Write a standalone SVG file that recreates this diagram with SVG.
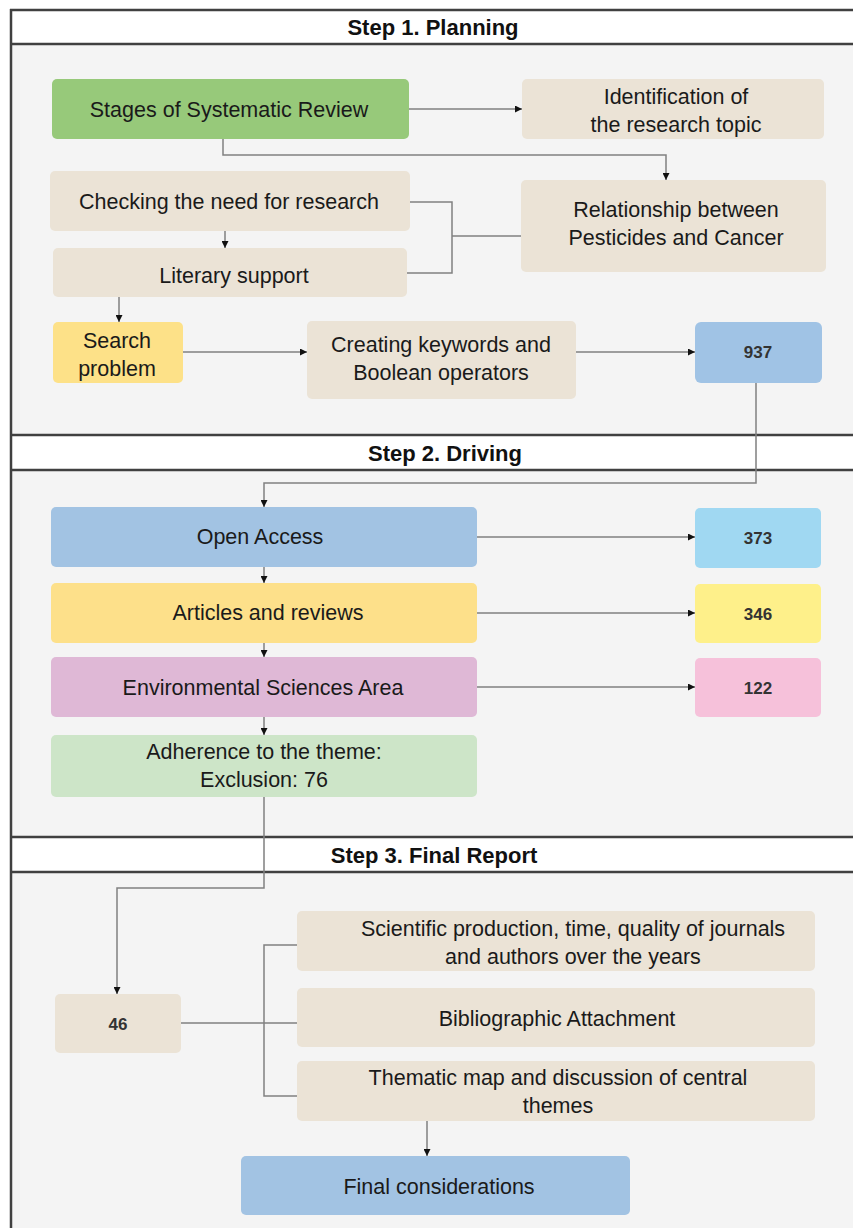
<svg xmlns="http://www.w3.org/2000/svg" width="853" height="1228" viewBox="0 0 853 1228">
<style>
.t{font-family:"Liberation Sans",Arial,sans-serif;font-size:21.5px;fill:#1a1a1a;text-anchor:middle}
.n{font-family:"Liberation Sans",Arial,sans-serif;font-size:17px;font-weight:bold;fill:#333;text-anchor:middle}
.h{font-family:"Liberation Sans",Arial,sans-serif;font-size:22px;font-weight:bold;fill:#111;text-anchor:middle}
.c{fill:none;stroke:#808080;stroke-width:1.5}
.b{fill:#ebe3d6}
.sep{stroke:#404040;stroke-width:2.5}
</style>
<defs>
<marker id="a" viewBox="0 0 10 10" refX="10" refY="5" markerWidth="7" markerHeight="7" markerUnits="userSpaceOnUse" orient="auto"><path d="M0,0L10,5L0,10z" fill="#111"/></marker>
</defs>
<rect x="0" y="0" width="853" height="1228" fill="#fff"/>
<g id="frame">
<rect x="11" y="44" width="842" height="391" fill="#f4f4f4"/>
<rect x="11" y="470" width="842" height="367" fill="#f4f4f4"/>
<rect x="11" y="872" width="842" height="356" fill="#f4f4f4"/>
<line class="sep" x1="10" y1="10" x2="853" y2="10"/>
<line class="sep" x1="10" y1="44" x2="853" y2="44"/>
<line class="sep" x1="10" y1="435" x2="853" y2="435"/>
<line class="sep" x1="10" y1="470" x2="853" y2="470"/>
<line class="sep" x1="10" y1="837" x2="853" y2="837"/>
<line class="sep" x1="10" y1="872" x2="853" y2="872"/>
<line class="sep" x1="11" y1="9" x2="11" y2="1228"/>
<text class="h" x="433" y="35">Step 1. Planning</text>
<text class="h" x="445" y="461">Step 2. Driving</text>
<text class="h" x="434" y="863">Step 3. Final Report</text>
</g>
<g id="connectors">
<line class="c" x1="409" y1="109" x2="522" y2="109" marker-end="url(#a)"/>
<polyline class="c" points="223,139 223,155 666,155 666,180" marker-end="url(#a)"/>
<line class="c" x1="225" y1="231" x2="225" y2="248" marker-end="url(#a)"/>
<polyline class="c" points="410,202 452,202 452,273 407,273"/>
<line class="c" x1="452" y1="236" x2="521" y2="236"/>
<line class="c" x1="119" y1="297" x2="119" y2="322" marker-end="url(#a)"/>
<line class="c" x1="183" y1="352" x2="307" y2="352" marker-end="url(#a)"/>
<line class="c" x1="576" y1="352" x2="695" y2="352" marker-end="url(#a)"/>
<polyline class="c" points="756,383 756,483 264,483 264,507" marker-end="url(#a)"/>
<line class="c" x1="477" y1="537" x2="695" y2="537" marker-end="url(#a)"/>
<line class="c" x1="264" y1="567" x2="264" y2="583" marker-end="url(#a)"/>
<line class="c" x1="477" y1="613" x2="695" y2="613" marker-end="url(#a)"/>
<line class="c" x1="264" y1="643" x2="264" y2="657" marker-end="url(#a)"/>
<line class="c" x1="477" y1="687" x2="695" y2="687" marker-end="url(#a)"/>
<line class="c" x1="264" y1="717" x2="264" y2="735" marker-end="url(#a)"/>
<polyline class="c" points="264,797 264,888 117,888 117,994" marker-end="url(#a)"/>
<line class="c" x1="181" y1="1023" x2="297" y2="1023"/>
<polyline class="c" points="297,945 264,945 264,1096 297,1096"/>
<line class="c" x1="427" y1="1121" x2="427" y2="1156" marker-end="url(#a)"/>
</g>
<g id="n-stages"><rect x="52" y="79" width="357" height="60" rx="5" fill="#97c97a"/><text class="t" x="229" y="117">Stages of Systematic Review</text></g>
<g id="n-ident"><rect class="b" x="522" y="79" width="302" height="60" rx="5"/><text class="t" x="676" y="104">Identification of</text><text class="t" x="676" y="132">the research topic</text></g>
<g id="n-rel"><rect class="b" x="521" y="180" width="305" height="92" rx="5"/><text class="t" x="676" y="217">Relationship between</text><text class="t" x="676" y="245">Pesticides and Cancer</text></g>
<g id="n-check"><rect class="b" x="50" y="171" width="360" height="60" rx="5"/><text class="t" x="229" y="209">Checking the need for research</text></g>
<g id="n-lit"><rect class="b" x="53" y="248" width="354" height="49" rx="5"/><text class="t" x="234" y="283">Literary support</text></g>
<g id="n-search"><rect x="53" y="322" width="130" height="61" rx="5" fill="#fde188"/><text class="t" x="117" y="348">Search</text><text class="t" x="117" y="376">problem</text></g>
<g id="n-kw"><rect class="b" x="307" y="321" width="269" height="78" rx="5"/><text class="t" x="441" y="352">Creating keywords and</text><text class="t" x="441" y="380">Boolean operators</text></g>
<g id="n-937"><rect x="695" y="322" width="127" height="61" rx="6" fill="#a0c3e5"/><text class="n" x="758" y="358">937</text></g>
<g id="n-open"><rect x="51" y="507" width="426" height="60" rx="5" fill="#a2c3e3"/><text class="t" x="260" y="544">Open Access</text></g>
<g id="n-373"><rect x="695" y="508" width="126" height="60" rx="5" fill="#a0d8f2"/><text class="n" x="758" y="544">373</text></g>
<g id="n-art"><rect x="51" y="583" width="426" height="60" rx="5" fill="#fde08a"/><text class="t" x="268" y="620">Articles and reviews</text></g>
<g id="n-346"><rect x="695" y="584" width="126" height="59" rx="5" fill="#fef08a"/><text class="n" x="758" y="620">346</text></g>
<g id="n-env"><rect x="51" y="657" width="426" height="60" rx="5" fill="#dfb8d6"/><text class="t" x="263" y="695">Environmental Sciences Area</text></g>
<g id="n-122"><rect x="695" y="658" width="126" height="59" rx="5" fill="#f6c1da"/><text class="n" x="758" y="694">122</text></g>
<g id="n-adh"><rect x="51" y="735" width="426" height="62" rx="5" fill="#cde5c8"/><text class="t" x="264" y="759">Adherence to the theme:</text><text class="t" x="264" y="787">Exclusion: 76</text></g>
<g id="n-46"><rect class="b" x="55" y="994" width="126" height="59" rx="5"/><text class="n" x="118" y="1030">46</text></g>
<g id="n-sci"><rect class="b" x="297" y="911" width="518" height="60" rx="5"/><text class="t" x="573" y="936">Scientific production, time, quality of journals</text><text class="t" x="573" y="964">and authors over the years</text></g>
<g id="n-bib"><rect class="b" x="297" y="988" width="518" height="59" rx="5"/><text class="t" x="557" y="1026">Bibliographic Attachment</text></g>
<g id="n-them"><rect class="b" x="297" y="1061" width="518" height="60" rx="5"/><text class="t" x="558" y="1085">Thematic map and discussion of central</text><text class="t" x="558" y="1113">themes</text></g>
<g id="n-final"><rect x="241" y="1156" width="389" height="59" rx="5" fill="#a2c3e3"/><text class="t" x="439" y="1194">Final considerations</text></g>
</svg>
